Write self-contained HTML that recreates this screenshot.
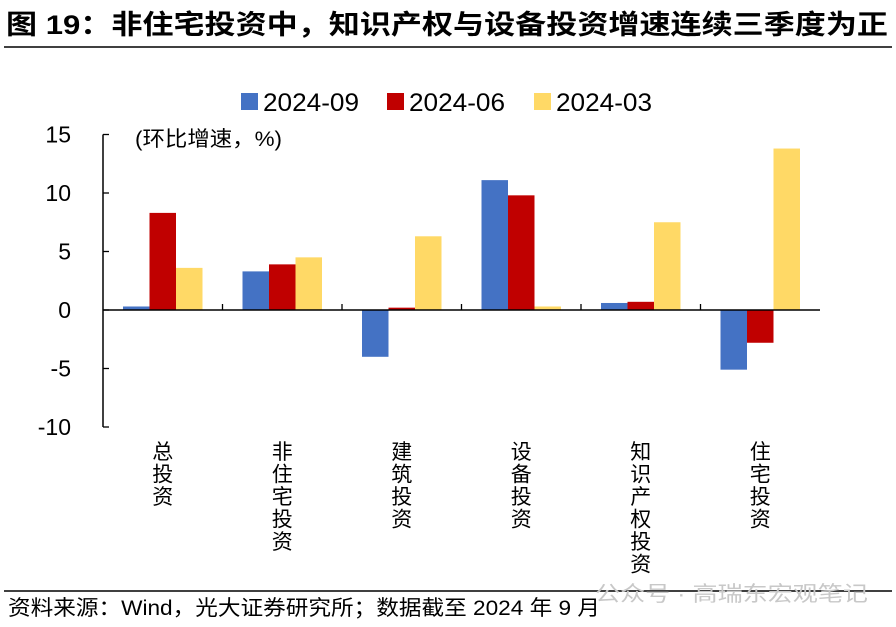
<!DOCTYPE html>
<html><head><meta charset="utf-8"><style>
body{margin:0;background:#fff;width:896px;height:627px;overflow:hidden;font-family:"Liberation Sans","Noto Sans CJK SC",sans-serif;}
</style></head><body>
<svg width="896" height="627" style="position:absolute;left:0;top:0">
<text x="6" y="34" font-size="27" font-weight="bold" fill="#000" textLength="882" lengthAdjust="spacingAndGlyphs">图 19：非住宅投资中，知识产权与设备投资增速连续三季度为正</text>
<line x1="4" y1="47" x2="892" y2="47" stroke="#000" stroke-width="1.5"/>
<g id="legend"></g>
<text x="135" y="146" font-size="21" fill="#000" textLength="147" lengthAdjust="spacingAndGlyphs">(环比增速，%)</text>
<g id="plot"></g>
<line x1="4" y1="591" x2="892" y2="591" stroke="#000" stroke-width="1.5"/>
<text x="8" y="615" font-size="21" fill="#000" textLength="592" lengthAdjust="spacingAndGlyphs">资料来源：Wind，光大证券研究所；数据截至 2024 年 9 月</text>
<text x="595" y="601" font-size="21" fill="#c8c8c8" textLength="273" lengthAdjust="spacingAndGlyphs">公众号 · 高瑞东宏观笔记</text>
</svg>
<script>
const categories=["总投资","非住宅投资","建筑投资","设备投资","知识产权投资","住宅投资"];
const seriesNames=["2024-09","2024-06","2024-03"];
const s0924=[0.3,3.3,-4.0,11.1,0.6,-5.1];
const s0624=[8.3,3.9,0.2,9.8,0.7,-2.8];
const s0324=[3.6,4.5,6.3,0.3,7.5,13.8];
const yTicks=[15,10,5,0,-5,-10];
const colors=["#4472C4","#C00000","#FFD966"];
const NS="http://www.w3.org/2000/svg";
const x0=103,x1=820,yTop=134.5,yBot=427;
const y=v=>yTop+(15-v)*(yBot-yTop)/25;
const gw=(x1-x0)/categories.length;
const plot=document.getElementById('plot');
function mk(t,a,p){const e=document.createElementNS(NS,t);for(const k in a)e.setAttribute(k,a[k]);(p||plot).appendChild(e);return e;}
const series=[s0924,s0624,s0324];
const bw=26.5;
categories.forEach((c,i)=>{
  const cx=x0+gw*(i+0.5);
  series.forEach((s,j)=>{
    const v=s[i];const bx=cx-1.5*bw+j*bw;
    const r=mk('rect',{x:bx,y:Math.min(y(v),y(0)),width:bw,height:Math.abs(y(v)-y(0)),fill:colors[j]});
    
    
  });
  const chars=[...c];
  chars.forEach((ch,k)=>{
    const t=mk('text',{x:cx,y:459+k*22.5,'font-size':21,'text-anchor':'middle',fill:'#000'});
    t.textContent=ch;
    
    
  });
  if(i>0){const tk=mk('line',{x1:x0+gw*i,x2:x0+gw*i,y1:y(0),y2:y(0)-6,stroke:'#000','stroke-width':1.3});
    }
});
yTicks.forEach(v=>{
  const l=mk('line',{x1:x0,x2:x0+6,y1:y(v),y2:y(v),stroke:'#000','stroke-width':1.3});
  
  const t=mk('text',{x:71,y:y(v)+8,'font-size':23,'text-anchor':'end',fill:'#000'});
  t.textContent=v;
  
});
const ya=mk('line',{x1:x0,x2:x0,y1:yTop,y2:yBot,stroke:'#000','stroke-width':1.5});

const xa=mk('line',{x1:x0,x2:x1,y1:y(0),y2:y(0),stroke:'#000','stroke-width':1.5});

const lg=document.getElementById('legend');
const lx=[241,387,534];
seriesNames.forEach((n,j)=>{
  const r=mk('rect',{x:lx[j],y:93,width:17,height:17,fill:colors[j]},lg);
  
  const t=mk('text',{x:lx[j]+22,y:111,'font-size':25,fill:'#000',textLength:96,lengthAdjust:'spacingAndGlyphs'},lg);
  t.textContent=n;
  
});
</script>
</body></html>
